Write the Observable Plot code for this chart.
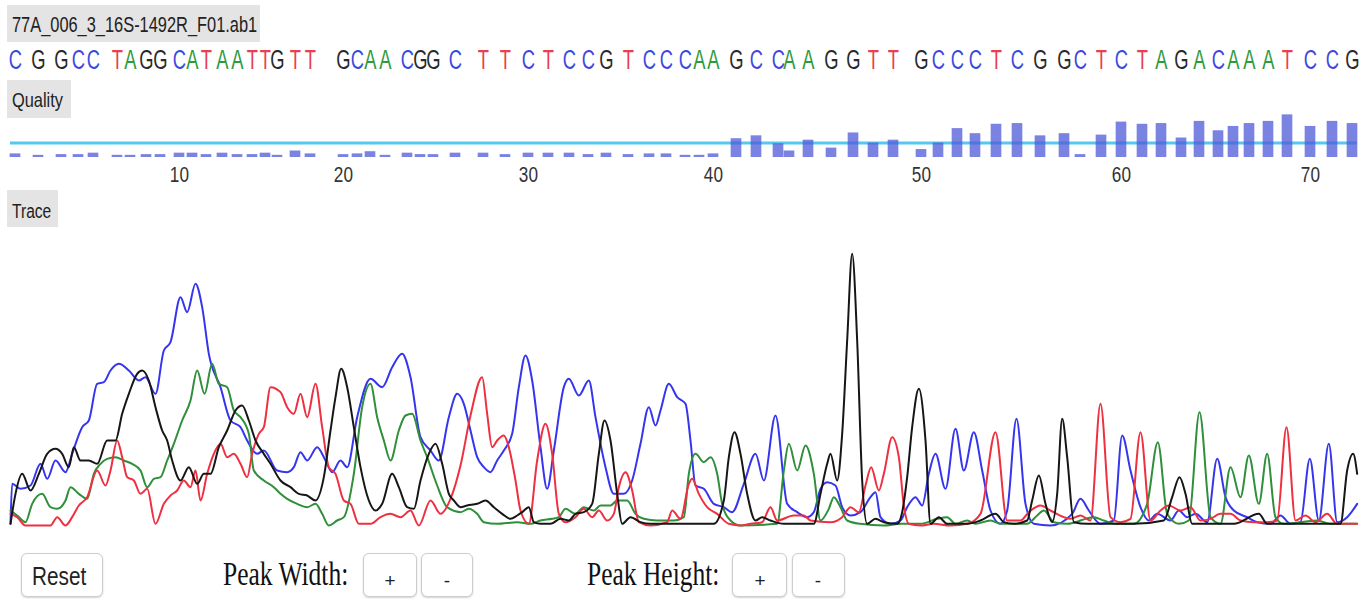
<!DOCTYPE html>
<html><head><meta charset="utf-8">
<script src="https://cdn.jsdelivr.net/npm/d3@7"></script>
<script src="https://cdn.jsdelivr.net/npm/@observablehq/plot@0.6"></script>
<style>
html,body{margin:0;padding:0;background:#fff;}
#page{position:relative;width:1369px;height:599px;overflow:hidden;background:#fff;}
#clip{position:absolute;left:0;top:0;width:1369px;height:540px;overflow:hidden;}
.box{position:absolute;background:#e4e4e4;}
.t{position:absolute;white-space:nowrap;color:#222;}
.btn{position:absolute;background:#fff;border:1px solid #cdcdcd;border-radius:6px;box-shadow:0 1px 2px rgba(0,0,0,.18);box-sizing:border-box;}
.plot{position:absolute;left:0;transform-origin:0 0;}
</style></head>
<body><div id="page"><div id="clip"></div></div>
<script>
// ---------------- data ----------------
const fileName = "77A_006_3_16S-1492R_F01.ab1";
const bases = ["C","G","G","C","C","T","A","G","G","C","A","T","A","A","T","T","G","T","T","G",
  "C","A","A","C","G","G","C","T","T","C","T","C","C","G","T","C","C","C","A","A",
  "G","C","C","A","A","G","G","T","T","G","C","C","C","T","C","G","G","C","T","C",
  "T","A","G","A","C","A","A","A","T","C","C","G"];
// peak (scan) position of each called base
const basePositions = [45,114,183,234,279,351,390,438,480,537,
  576,618,666,711,756,795,831,885,930,1029,
  1071,1110,1155,1221,1260,1299,1365,1449,1515,1584,
  1644,1707,1764,1818,1884,1947,1998,2055,2097,2139,
  2208,2268,2334,2367,2424,2493,2559,2619,2679,2763,
  2814,2871,2925,2988,3051,3120,3192,3240,3303,3363,
  3426,3483,3543,3597,3654,3699,3747,3804,3861,3930,
  3996,4056];
const qualities = [5,3,4,4,6,3,3,4,4,6,6,4,6,4,4,6,3,9,5,4,5,8,3,6,4,4,6,6,4,6,6,6,4,6,4,5,5,3,3,5,
  26,30,19,9,24,13,34,20,24,
  11,20,40,33,46,47,30,33,4,31,49,46,47,27,50,37,43,47,50,59,43,50,47];
const qualityThreshold = 20;
const tickBases = [10,20,30,40,50,60,70];
const baseNames = ["A","C","G","T"];
const letterColors = ["#2e9a3e","#3d48e0","#2a2a2a","#e8404f"];
const traceColors = ["#2f8f3a","#3535f0","#161616","#ee3040"];

// trace channels: [scan, intensity]
const traceC = [[30,5],[35,125],[60,110],[90,120],[120,185],[140,140],[165,195],[195,160],[215,215],[245,295],[265,315],[290,425],[310,430],[330,465],[355,485],[385,465],[415,435],[435,445],[465,395],[490,525],[510,550],[540,685],[560,640],[585,725],[605,655],[625,515],[660,415],[690,315],[720,295],[740,255],[770,215],[790,225],[830,165],[860,160],[880,175],[900,220],[920,195],[950,235],[975,195],[995,160],[1020,195],[1040,175],[1070,325],[1110,440],[1145,415],[1175,475],[1205,515],[1230,445],[1260,265],[1290,225],[1315,195],[1345,325],[1370,395],[1390,365],[1410,285],[1430,205],[1450,175],[1470,160],[1490,195],[1510,225],[1535,275],[1555,415],[1575,510],[1595,435],[1620,235],[1640,110],[1660,225],[1690,415],[1705,440],[1735,390],[1765,435],[1785,325],[1815,175],[1840,95],[1870,95],[1895,135],[1920,245],[1945,355],[1965,300],[1980,345],[2005,425],[2030,385],[2055,365],[2070,255],[2085,120],[2110,110],[2140,65],[2170,55],[2195,40],[2230,125],[2265,215],[2290,135],[2325,330],[2360,65],[2390,40],[2420,25],[2440,40],[2460,110],[2480,130],[2505,120],[2525,55],[2550,30],[2580,40],[2610,85],[2625,100],[2640,25],[2670,5],[2700,15],[2720,55],[2745,85],[2765,60],[2785,155],[2805,215],[2835,110],[2865,290],[2890,165],[2920,280],[2945,165],[2970,45],[3000,5],[3020,45],[3048,320],[3075,65],[3100,5],[3150,0],[3215,35],[3240,80],[3265,45],[3300,5],[3340,15],[3365,270],[3390,165],[3420,55],[3445,15],[3470,35],[3510,15],[3535,45],[3560,25],[3585,35],[3620,10],[3650,200],[3675,85],[3700,45],[3740,25],[3770,10],[3810,5],[3840,30],[3870,5],[3900,10],[3928,200],[3955,15],[3985,245],[4010,10],[4040,25],[4070,65]];
const traceT = [[30,35],[50,25],[75,0],[150,0],[170,25],[195,0],[215,25],[235,60],[260,85],[290,165],[315,120],[330,165],[350,255],[365,205],[380,145],[400,135],[420,95],[440,110],[465,5],[490,65],[510,90],[530,105],[550,135],[570,115],[585,165],[600,75],[620,155],[640,215],[660,245],[680,205],[700,215],[720,185],[740,145],[755,215],[775,275],[790,295],[810,415],[840,400],[860,355],[880,335],[900,395],[920,325],[945,425],[965,295],[985,175],[1005,155],[1030,75],[1050,65],[1075,5],[1110,5],[1140,25],[1170,35],[1200,25],[1230,45],[1255,0],[1290,75],[1320,35],[1350,80],[1380,180],[1410,330],[1445,445],[1460,335],[1475,235],[1490,255],[1510,270],[1525,235],[1545,135],[1560,45],[1585,5],[1610,195],[1635,305],[1655,215],[1675,35],[1695,10],[1725,25],[1750,50],[1775,25],[1795,45],[1820,15],[1840,35],[1855,115],[1875,160],[1895,105],[1915,10],[1950,0],[2000,10],[2015,45],[2040,20],[2065,125],[2075,140],[2095,95],[2120,55],[2150,35],[2185,5],[2220,0],[2250,5],[2285,10],[2310,55],[2330,15],[2380,30],[2410,30],[2430,15],[2490,10],[2525,25],[2550,55],[2575,40],[2595,120],[2612,175],[2635,105],[2650,155],[2675,265],[2695,205],[2710,60],[2725,5],[2760,0],[2800,5],[2850,0],[2900,5],[2940,35],[2985,280],[3020,15],[3060,15],[3085,40],[3120,60],[3150,45],[3190,25],[3210,20],[3240,30],[3270,15],[3300,365],[3330,25],[3360,10],[3390,20],[3420,280],[3450,15],[3480,45],[3505,60],[3540,45],[3570,55],[3600,15],[3630,20],[3660,35],[3690,35],[3720,15],[3760,10],[3800,10],[3830,15],[3858,295],[3885,15],[3915,30],[3945,10],[3980,35],[4010,5],[4070,5]];
const traceA = [[30,45],[50,30],[75,10],[95,65],[125,95],[150,55],[170,50],[195,75],[210,115],[235,95],[260,80],[280,155],[300,185],[320,200],[345,205],[370,195],[395,185],[420,165],[440,115],[460,140],[480,145],[500,195],[520,245],[545,315],[570,375],[590,465],[612,395],[635,485],[655,425],[680,415],[700,345],[720,325],[745,275],[760,165],[790,135],[820,115],[840,95],[860,80],[890,65],[920,55],[945,65],[965,35],[985,0],[1010,15],[1030,25],[1060,155],[1085,355],[1110,425],[1130,325],[1150,255],[1170,195],[1195,285],[1215,330],[1235,335],[1260,255],[1280,205],[1310,120],[1340,55],[1380,40],[1405,50],[1430,35],[1450,10],[1490,5],[1550,10],[1590,5],[1620,15],[1655,20],[1675,25],[1695,50],[1725,35],[1750,55],[1780,45],[1800,60],[1830,60],[1850,75],[1880,75],[1905,35],[1930,20],[1970,15],[2020,15],[2050,25],[2065,155],[2085,215],[2110,190],[2130,205],[2150,155],[2165,65],[2190,15],[2220,0],[2330,5],[2350,165],[2365,245],[2390,165],[2415,240],[2440,155],[2460,15],[2485,50],[2500,85],[2520,55],[2540,15],[2580,5],[2650,0],[2700,5],[2760,5],[2810,20],[2840,25],[2865,5],[2900,15],[2925,5],[2970,15],[3000,5],[3080,5],[3110,30],[3130,45],[3160,10],[3200,5],[3280,25],[3310,15],[3350,5],[3400,5],[3440,65],[3472,250],[3500,35],[3535,5],[3565,15],[3597,340],[3630,25],[3660,5],[3690,175],[3720,85],[3745,210],[3775,65],[3800,215],[3825,25],[3850,5],[3950,15],[3990,5],[4070,5]];
const traceG = [[30,5],[45,95],[65,155],[90,105],[115,155],[140,215],[165,230],[185,215],[205,175],[220,235],[240,195],[265,195],[290,185],[320,255],[345,255],[365,335],[385,395],[410,455],[425,465],[445,435],[465,355],[485,285],[500,255],[515,195],[540,135],[565,175],[590,125],[610,155],[630,155],[655,235],[680,285],[705,345],[725,360],[745,315],[765,255],[790,215],[810,185],[840,135],[870,115],[895,95],[920,90],[945,75],[970,145],[990,285],[1005,385],[1022,470],[1040,415],[1060,295],[1080,175],[1105,75],[1125,45],[1145,65],[1175,155],[1195,115],[1220,55],[1240,50],[1260,135],[1285,215],[1305,245],[1325,185],[1345,95],[1360,75],[1380,55],[1400,60],[1430,65],[1455,75],[1480,55],[1505,35],[1530,20],[1550,30],[1565,40],[1585,55],[1600,10],[1620,5],[1650,5],[1680,20],[1705,15],[1725,35],[1750,40],[1775,65],[1795,215],[1812,315],[1830,255],[1850,95],[1865,5],[1890,25],[1920,10],[1950,5],[2140,5],[2170,75],[2185,205],[2202,280],[2220,215],[2240,95],[2265,15],[2285,25],[2310,15],[2350,5],[2440,5],[2460,95],[2480,185],[2490,215],[2510,135],[2525,275],[2540,555],[2555,815],[2570,555],[2585,135],[2600,5],[2625,20],[2650,10],[2690,5],[2705,40],[2720,145],[2735,295],[2755,410],[2775,255],[2790,5],[2815,25],[2840,5],[2900,5],[2940,15],[2985,35],[3010,10],[3040,5],[3080,15],[3095,75],[3115,150],[3135,65],[3155,10],[3170,95],[3185,320],[3200,205],[3220,10],[3260,5],[3320,5],[3400,5],[3490,15],[3515,85],[3537,145],[3555,95],[3575,5],[3620,5],[3700,5],[3775,35],[3800,5],[3850,5],[3950,5],[4020,5],[4040,165],[4058,215],[4070,155]];

// ---------------- layout helpers ----------------
const page = document.getElementById("page");
const clip = document.getElementById("clip");
const SANS = "'Liberation Sans', Arial, Helvetica, sans-serif";
const SERIF = "'Liberation Serif', 'Times New Roman', serif";

function box(parent, l, t, w, h, cls = "box") {
  const d = document.createElement("div");
  d.className = cls;
  Object.assign(d.style, {left: l + "px", top: t + "px", width: w + "px", height: h + "px"});
  parent.appendChild(d);
  return d;
}
function label(parent, str, {x, baseline, size, family = SANS, asc = 0.8465, sx = 1, anchor = "start", color = "#222"}) {
  const s = document.createElement("span");
  s.className = "t";
  s.textContent = str;
  s.style.fontFamily = family;
  s.style.fontSize = size + "px";
  s.style.lineHeight = size + "px";
  s.style.top = (baseline - size * asc) + "px";
  s.style.color = color;
  parent.appendChild(s);
  const w = s.getBoundingClientRect().width;
  s.style.left = (anchor === "middle" ? x - w * sx / 2 : x) + "px";
  s.style.transformOrigin = "0 0";
  s.style.transform = `scaleX(${sx})`;
  return s;
}
function mount(svg, top, sx, font) {
  svg.classList.add("plot");
  svg.style.top = top + "px";
  svg.style.maxWidth = "none";
  svg.style.background = "transparent";
  svg.style.overflow = "visible";
  if (font) svg.style.font = font;
  svg.style.color = "#333";
  if (sx !== 1) svg.style.transform = `scaleX(${sx})`;
  clip.appendChild(svg);
}

const X_DOMAIN = [0, 4107];
const traceStart = traceC[0][0];
const traceEnd = traceC[traceC.length - 1][0];

// ---------------- labels ----------------
box(page, 7, 5, 253, 37);
label(page, fileName, {x: 12, baseline: 33, size: 22, sx: 0.745});
box(page, 7, 80, 64, 38);
label(page, "Quality", {x: 12, baseline: 107, size: 21, sx: 0.78});
box(page, 7, 190, 51, 37);
label(page, "Trace", {x: 12, baseline: 218, size: 20, sx: 0.78});

// ---------------- sequence row ----------------
const W1 = Math.round(1369 / 0.68);
const seqPlot = Plot.plot({
  width: W1, height: 40, margin: 0,
  x: {domain: X_DOMAIN, axis: null},
  color: {domain: baseNames, range: letterColors},
  marks: [
    Plot.text(bases.map((b, i) => ({b, pos: basePositions[i]})),
      {x: "pos", text: "b", fill: "b", fontSize: 27, fontFamily: SANS})
  ]
});
mount(seqPlot, 40, 1369 / W1);

// ---------------- quality bars + base axis ----------------
const W2 = Math.round(1369 / 0.78);
const tickPos = tickBases.map(b => basePositions[b - 1]);
const qualPlot = Plot.plot({
  width: W2, height: 85, marginTop: 0, marginBottom: 33, marginLeft: 0, marginRight: 0,
  x: {domain: X_DOMAIN, ticks: tickPos, tickFormat: d => String(tickBases[tickPos.indexOf(d)]),
      tickSize: 0, tickPadding: 9, label: null},
  y: {domain: [0, 72], axis: null},
  marks: [
    Plot.ruleY([qualityThreshold], {x1: traceStart, x2: traceEnd, stroke: "#55c8f0", strokeWidth: 3}),
    Plot.rectY(qualities.map((q, i) => ({q, pos: basePositions[i]})),
      {x1: d => d.pos - 16, x2: d => d.pos + 16, y: "q", fill: "#4d5ad8", fillOpacity: 0.75})
  ]
});
mount(qualPlot, 105, 1369 / W2, "22px " + SANS);

// ---------------- trace ----------------
const channels = [["C", traceC], ["A", traceA], ["T", traceT], ["G", traceG]];
const tracePlot = Plot.plot({
  width: 1369, height: 290, marginTop: 0, marginBottom: 5, marginLeft: 0, marginRight: 0,
  x: {domain: X_DOMAIN, axis: null},
  y: {domain: [0, 855], axis: null},
  color: {domain: baseNames, range: traceColors},
  marks: channels.map(([b, pts]) =>
    Plot.line(pts, {x: d => d[0], y: d => d[1], stroke: () => b, strokeWidth: 2, curve: "monotone-x"}))
});
mount(tracePlot, 240, 1);

// ---------------- controls ----------------
box(page, 21, 553, 82, 44, "btn");
label(page, "Reset", {x: 59, baseline: 585, size: 25, sx: 0.83, anchor: "middle"});
label(page, "Peak Width:", {x: 223, baseline: 585, size: 34, family: SERIF, asc: 0.8375, sx: 0.75, color: "#111"});
box(page, 363, 553, 54, 44, "btn");
label(page, "+", {x: 390, baseline: 587, size: 19, anchor: "middle"});
box(page, 421, 553, 52, 44, "btn");
label(page, "-", {x: 447, baseline: 587, size: 19, anchor: "middle"});
label(page, "Peak Height:", {x: 587, baseline: 585, size: 34, family: SERIF, asc: 0.8375, sx: 0.75, color: "#111"});
box(page, 732, 553, 55, 44, "btn");
label(page, "+", {x: 760, baseline: 587, size: 19, anchor: "middle"});
box(page, 792, 553, 53, 44, "btn");
label(page, "-", {x: 818, baseline: 587, size: 19, anchor: "middle"});
</script></body></html>
